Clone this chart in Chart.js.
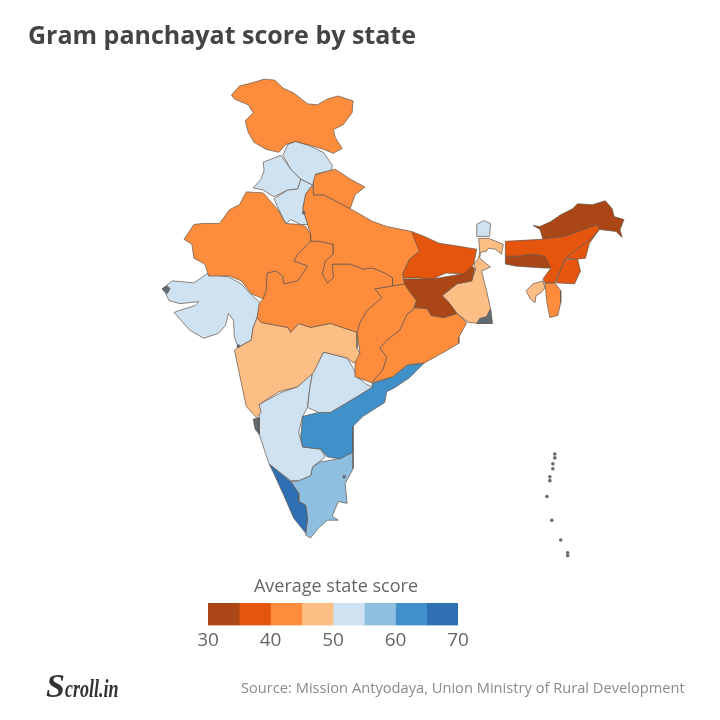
<!DOCTYPE html>
<html>
<head>
<meta charset="utf-8">
<script src="https://cdn.jsdelivr.net/npm/chart.js@4"></script>
<style>
  html, body { margin: 0; padding: 0; background: #fff; }
  #wrap { position: relative; width: 720px; height: 720px; overflow: hidden; font-family: "Open Sans", sans-serif; }
  #wrap div { position: absolute; white-space: nowrap; }
  #map { position: absolute; left: 0; top: 0; filter: blur(0.6px); }
  #scale { position: absolute; left: 190px; top: 598px; filter: blur(0.4px); }
  #title { left: 28px; top: 17px; font-size: 25px; font-weight: 700; color: #444; }
  #legendTitle { left: 176px; width: 320px; text-align: center; top: 573px; font-size: 18px; color: #666; }
  #logo { left: 46px; top: 667px; font-family: "Liberation Serif", serif; font-style: italic; font-weight: 700; font-size: 34px; color: #333; }
  #logo span { display: inline-block; font-size: 25px; transform: scaleX(0.72); transform-origin: left center; }
  #source { left: 241px; top: 677px; font-size: 14.66px; color: #8a8a8a; }
</style>
</head>
<body>
<div id="wrap">
  <div style="position:absolute;left:0;top:0"><canvas id="map" width="720" height="720"></canvas></div>
  <div id="title">Gram panchayat score by state</div>
  <div id="legendTitle">Average state score</div>
  <div style="position:absolute;left:0;top:0"><canvas id="scale" width="290" height="50"></canvas></div>
  <div id="logo">S<span>croll.in</span></div>
  <div id="source">Source: Mission Antyodaya, Union Ministry of Rural Development</div>
</div>
<script>
// ------------- BINS OF THE COLOUR SCALE
const binStarts = [30, 35, 40, 45, 50, 55, 60, 65];
const binColors = ['#ab4716', '#e6550d', '#fd8d3c', '#fdbe85', '#cfe2f1', '#8fbfe0', '#4090ca', '#2f70b5'];
const scaleTicks = [30, 40, 50, 60, 70];

// ------------- STATES AND ESTIMATED SCORES
const stateNames = ['Jammu and Kashmir', 'Himachal Pradesh', 'Punjab', 'Haryana', 'Uttarakhand', 'Rajasthan',
  'Uttar Pradesh', 'Madhya Pradesh', 'Chhattisgarh', 'Bihar', 'Jharkhand', 'West Bengal', 'Sikkim', 'Assam',
  'Meghalaya', 'Arunachal Pradesh', 'Nagaland', 'Manipur', 'Mizoram', 'Tripura', 'Odisha', 'Maharashtra',
  'Telangana', 'Andhra Pradesh', 'Karnataka', 'Kerala', 'Tamil Nadu', 'Gujarat'];
const stateScores = [43, 53, 53, 53, 43, 43, 43, 43, 43, 38, 33, 47, 53, 38, 33, 33, 38, 38, 43, 47, 43, 47, 53, 62, 53, 67, 57, 53];

// ------------- OUTLINES (SAME UNITS AS THE HIDDEN AXES)
const jammuKashmir = [[230,92],[238,83],[250,80],[263,76],[274,77],[282,85],[293,90],[307,101],[317,102],[327,96],[338,93],[353,98],[352,110],[343,122],[333,127],[335,135],[342,146],[333,151],[323,147],[310,143],[295,139],[285,142],[278,150],[265,147],[253,140],[247,130],[244,118],[252,110],[247,102],[233,96]];
const himachal = [[282,153],[287,142],[295,139],[308,143],[323,150],[332,163],[331,168],[315,172],[312,183],[300,177],[290,167]];
const punjab = [[280,153],[290,167],[300,177],[297,187],[287,188],[273,195],[262,188],[252,186],[260,177],[263,168],[262,160]];
const haryana = [[300,177],[312,183],[305,192],[302,207],[307,223],[300,223],[290,218],[285,222],[278,208],[273,197],[287,188],[297,187]];
const uttarakhand = [[313,173],[335,167],[350,177],[365,185],[355,193],[350,207],[333,198],[323,193],[313,193],[313,183]];
const rajasthan = [[182,238],[192,223],[200,222],[218,222],[228,208],[238,203],[245,190],[262,191],[270,200],[277,208],[285,222],[300,223],[305,225],[310,233],[310,240],[297,253],[293,260],[307,265],[297,280],[283,283],[282,275],[275,270],[266,272],[265,290],[262,298],[250,293],[240,280],[228,275],[207,275],[203,263],[192,257],[190,243]];
const uttarPradesh = [[313,193],[323,193],[333,198],[350,207],[373,220],[387,225],[412,230],[420,250],[410,258],[403,273],[405,283],[393,285],[393,277],[385,272],[373,267],[363,268],[350,263],[332,263],[333,277],[327,282],[322,273],[325,260],[333,253],[333,243],[319,240],[310,240],[310,233],[307,223],[302,207],[305,192],[312,183]];
const madhyaPradesh = [[262,298],[265,290],[266,272],[275,270],[282,275],[283,283],[297,280],[307,265],[293,260],[297,253],[310,240],[319,240],[333,243],[333,253],[325,260],[322,273],[327,282],[333,277],[332,263],[350,263],[363,268],[373,267],[385,272],[393,277],[393,285],[375,288],[382,297],[367,310],[360,322],[357,332],[330,323],[310,327],[298,323],[290,332],[287,327],[260,322],[256,317],[258,303]];
const chhattisgarh = [[375,288],[393,285],[405,283],[408,288],[417,300],[413,310],[408,313],[400,330],[387,340],[380,348],[387,357],[383,370],[372,383],[355,377],[355,363],[360,353],[357,332],[360,322],[367,310],[382,297]];
const bihar = [[412,230],[425,235],[440,242],[460,245],[478,248],[475,263],[465,273],[447,272],[433,278],[418,277],[404,277],[403,273],[410,258],[420,250],[413,242]];
const jharkhand = [[403,278],[420,278],[440,277],[463,273],[472,263],[476,268],[473,280],[458,283],[443,295],[450,302],[458,313],[445,317],[432,315],[428,308],[415,307],[417,300],[405,285]];
const westBengal = [[443,295],[458,283],[473,280],[477,268],[475,263],[480,257],[481,250],[480,237],[490,237],[505,243],[503,253],[497,248],[490,247],[488,250],[482,251],[481,257],[492,266],[483,270],[488,290],[492,308],[493,323],[480,323],[470,322],[458,313],[450,302]];
const sikkim = [[478,223],[485,219],[492,222],[491,235],[478,235]];
const assam = [[507,240],[543,238],[567,235],[600,223],[602,228],[593,238],[580,247],[568,257],[562,270],[557,282],[547,282],[545,278],[553,267],[547,255],[533,253],[520,255],[507,255]];
const meghalaya = [[507,255],[520,255],[533,253],[547,255],[554,267],[547,267],[530,266],[517,265],[507,263]];
const arunachal = [[535,224],[542,225],[553,220],[563,213],[575,207],[580,202],[595,203],[608,199],[615,207],[617,215],[627,218],[623,228],[625,236],[619,230],[602,228],[600,223],[583,230],[567,235],[545,238],[542,228]];
const nagaland = [[602,228],[593,238],[580,247],[568,257],[580,258],[588,257],[592,242]];
const manipur = [[568,258],[580,258],[583,270],[577,283],[558,282],[562,270]];
const mizoram = [[547,282],[557,282],[563,290],[563,302],[560,315],[552,317],[549,302]];
const tripura = [[528,290],[535,283],[545,280],[547,287],[543,292],[538,295],[537,302],[532,298]];
const odisha = [[408,313],[413,310],[415,307],[428,308],[432,315],[445,317],[458,313],[468,322],[460,337],[460,343],[445,352],[425,363],[408,365],[393,377],[372,383],[383,370],[387,357],[380,348],[387,340],[400,330]];
const maharashtra = [[252,327],[256,317],[260,322],[287,327],[290,332],[298,323],[310,327],[330,323],[357,332],[357,348],[362,357],[353,363],[347,358],[323,352],[313,373],[297,387],[278,392],[258,405],[260,413],[255,418],[245,407],[233,350],[237,347],[250,340]];
const telangana = [[323,352],[347,358],[353,368],[357,377],[367,385],[373,387],[357,397],[347,403],[330,413],[318,413],[307,408],[309,390],[312,373]];
const andhra = [[372,384],[393,377],[408,365],[425,363],[410,378],[395,388],[387,392],[385,403],[363,417],[353,427],[353,453],[340,460],[327,458],[320,450],[302,448],[300,438],[302,417],[318,413],[330,413],[347,403],[357,397],[373,387]];
const karnataka = [[258,418],[258,405],[280,393],[297,387],[312,373],[309,390],[307,408],[302,417],[298,433],[302,448],[320,450],[325,458],[312,468],[310,477],[298,482],[290,482],[268,465],[262,447],[258,435]];
const kerala = [[268,465],[290,483],[298,495],[298,503],[305,507],[307,520],[305,535],[293,520],[283,497],[272,473]];
const tamilNadu = [[290,483],[298,482],[310,477],[312,468],[320,463],[327,462],[337,460],[353,453],[353,470],[345,485],[347,505],[338,503],[332,518],[338,522],[327,522],[318,530],[310,540],[305,537],[307,520],[305,507],[298,503],[298,495]];
const gujarat = [[160,288],[170,280],[192,282],[205,273],[227,276],[240,283],[248,292],[260,303],[256,317],[252,327],[250,340],[237,347],[233,337],[232,320],[227,313],[224,325],[217,333],[202,338],[188,330],[172,312],[177,310],[193,305],[197,301],[178,303],[167,300],[163,292]];
const stateShapes = [jammuKashmir, himachal, punjab, haryana, uttarakhand, rajasthan, uttarPradesh, madhyaPradesh,
  chhattisgarh, bihar, jharkhand, westBengal, sikkim, assam, meghalaya, arunachal, nagaland, manipur, mizoram,
  tripura, odisha, maharashtra, telangana, andhra, karnataka, kerala, tamilNadu, gujarat];

// Zonas sin dato (gris): Goa, delta, punta de Gujarat
const goa = [[252,420],[258,418],[258,435],[254,430]];
const sundarbans = [[478,323],[481,318],[488,316],[492,308],[494,323]];
const kutchTip = [[160,288],[165,285],[168,288],[165,293]];
const noDataShapes = [goa, sundarbans, kutchTip];
const smallSpots = [[557,455],[557,459],[555,465],[555,470],[552,478],[552,482],[549,498],[554,522],[563,542],[570,555],[570,558],[303,211],[344,478],[237,346]];

function colorForScore(score) {
  let index = binStarts.length - 1;
  while (index > 0 && score < binStarts[index]) index--;
  return binColors[index];
}

function closedShape(shape) {
  return shape.concat([shape[0]]);
}

function shapeDataset(label, shape, color) {
  return {
    label: label,
    data: closedShape(shape),
    showLine: true,
    fill: 'shape',
    tension: 0,
    backgroundColor: color,
    borderColor: 'rgba(100,85,75,0.7)',
    borderWidth: 1,
    pointRadius: 0
  };
}

// ---------- MAPA
let mapDatasets = [{
  label: 'spots',
  data: smallSpots,
  showLine: false,
  pointRadius: 1.8,
  borderWidth: 0,
  backgroundColor: '#666a70'
}];
noDataShapes.forEach(function (shape) {
  mapDatasets.push(shapeDataset('no data', shape, '#5f6a72'));
});
stateShapes.forEach(function (shape, index) {
  mapDatasets.push(shapeDataset(stateNames[index], shape, colorForScore(stateScores[index])));
});

new Chart(document.getElementById('map').getContext('2d'), {
  type: 'scatter',
  data: { datasets: mapDatasets },
  options: {
    responsive: false,
    animation: false,
    layout: { padding: 0 },
    plugins: { legend: { display: false }, tooltip: { enabled: false } },
    scales: {
      x: { display: false, min: 0, max: 720 },
      y: { display: false, min: 0, max: 720, reverse: true }
    }
  }
});

// ---------- ESCALA DE COLOR
new Chart(document.getElementById('scale').getContext('2d'), {
  type: 'bar',
  data: {
    labels: ['score'],
    datasets: binStarts.map(function (start, index) {
      return { data: [[start, start + 5]], backgroundColor: binColors[index], grouped: false, barPercentage: 1, categoryPercentage: 1 };
    })
  },
  options: {
    indexAxis: 'y',
    responsive: false,
    animation: false,
    layout: { padding: { left: 18, right: 22, top: 5, bottom: 0 } },
    plugins: { legend: { display: false }, tooltip: { enabled: false } },
    scales: {
      y: { display: false },
      x: {
        min: scaleTicks[0],
        max: scaleTicks[scaleTicks.length - 1],
        grid: { display: false },
        border: { display: false },
        afterBuildTicks: function (axis) {
          axis.ticks = scaleTicks.map(function (v) { return { value: v }; });
        },
        ticks: {
          padding: -4,
          maxRotation: 0,
          color: '#666',
          font: { family: 'Open Sans', size: 19 }
        }
      }
    }
  }
});
</script>
</body>
</html>
